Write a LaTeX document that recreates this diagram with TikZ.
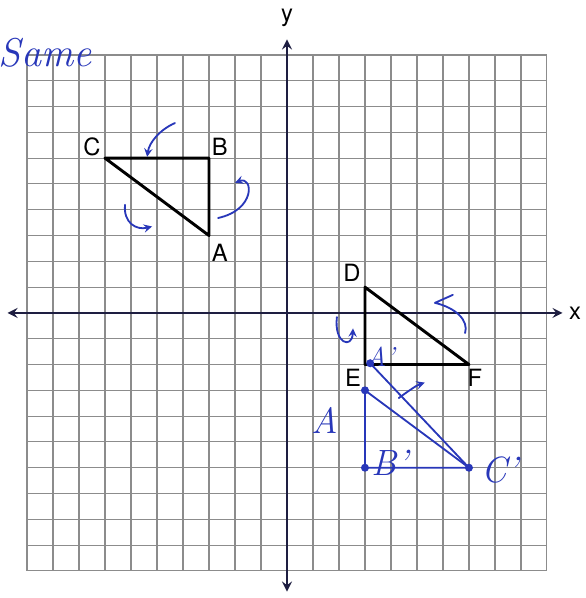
\documentclass[tikz,border=0pt]{standalone}
\usepackage{fontspec}
\setsansfont{TeX Gyre Heros}
\usepackage{tikz}
\usetikzlibrary{arrows}
\definecolor{stylo}{RGB}{40,55,185}
\definecolor{axe}{RGB}{30,30,65}

\begin{document}
\begin{tikzpicture}[x=0.5cm, y=0.4962cm,
    lettre/.style={font=\sffamily\fontsize{13}{13}\selectfont},
    main/.style={stylo, font=\itshape\fontsize{20}{20}\selectfont},
    trait/.style={stylo, line width=1pt, line cap=round, line join=round},
    fleche/.style={trait, ->, >=stealth}]
    \useasboundingbox (-11.04,-11.05) rectangle (11.5,12.13);
    % Quadrillage
    \draw[black!45, line width=0.6pt, step=1] (-10,-10) grid (10,10);
    % Axes
    \coordinate (xg) at (-10.75,0);
    \coordinate (xd) at (10.6,0);
    \coordinate (yb) at (0,-10.8);
    \coordinate (yh) at (0,10.6);
    \draw[axe, line width=1.4pt, <->, >=stealth] (xg) -- (xd);
    \draw[axe, line width=1.4pt, <->, >=stealth] (yb) -- (yh);
    \node[lettre] (labx) at (11.08,0) {x};
    \node[lettre] (laby) at (0,11.43) {y};
    % Triangle ABC
    \coordinate (A) at (-3,3);
    \coordinate (B) at (-3,6);
    \coordinate (C) at (-7,6);
    \draw[line width=1.6pt, line join=round] (A) -- (B) -- (C) -- cycle;
    \node[lettre] (labA) at (-2.58,2.33) {A};
    \node[lettre] (labB) at (-2.58,6.43) {B};
    \node[lettre] (labC) at (-7.5,6.43) {C};
    % Triangle DEF
    \coordinate (D) at (3,1);
    \coordinate (E) at (3,-2);
    \coordinate (F) at (7,-2);
    \draw[line width=1.6pt, line join=round] (D) -- (E) -- (F) -- cycle;
    \node[lettre] (labD) at (2.5,1.55) {D};
    \node[lettre] (labE) at (2.54,-2.52) {E};
    \node[lettre] (labF) at (7.23,-2.52) {F};
    % Image A'B'C' (au stylo)
    \coordinate (Ap) at (3,-3);
    \coordinate (Bp) at (3,-6);
    \coordinate (Cp) at (7,-6);
    \coordinate (Ep) at (3.2,-1.95);
    \draw[trait] (Ap) -- (Bp) -- (Cp) -- cycle;
    \draw[trait] (Ep) -- (Cp);
    \foreach \p in {Ap,Bp,Cp,Ep} \fill[stylo] (\p) circle (2.2pt);
    \node[main, font=\itshape\fontsize{15}{15}\selectfont] (labAp) at (3.6,-1.7) {A'};
    \node[main] (labBp) at (3.96,-5.8) {B'};
    \node[main] (labCp) at (8.2,-6.1) {C'};
    \node[main] (labAm) at (1.46,-4.15) {A};
    \node[main, font=\itshape\fontsize{22}{22}\selectfont] (same) at (-9.3,10.1) {Same};
    % Fleches de rotation
    \draw[fleche] (-4.31,7.36) .. controls (-4.9,7.1) and (-5.3,6.6) .. (-5.38,6.05);
    \draw[fleche] (-2.65,3.68) .. controls (-1.2,4.0) and (-1.3,5.3) .. (-2.0,5.05);
    \draw[fleche] (-6.23,4.19) .. controls (-6.3,3.5) and (-5.8,3.2) .. (-5.19,3.35);
    \draw[fleche] (1.92,-0.16) .. controls (1.8,-1.2) and (2.5,-1.4) .. (2.54,-0.6);
    \draw[trait] (6.38,0.7) -- (5.69,0.39) .. controls (6.5,0.2) and (7.0,-0.3) .. (6.85,-0.78);
    \draw[fleche] (4.3,-3.3) .. controls (4.7,-3.0) and (5.0,-2.8) .. (5.3,-2.7);
\end{tikzpicture}
\end{document}
